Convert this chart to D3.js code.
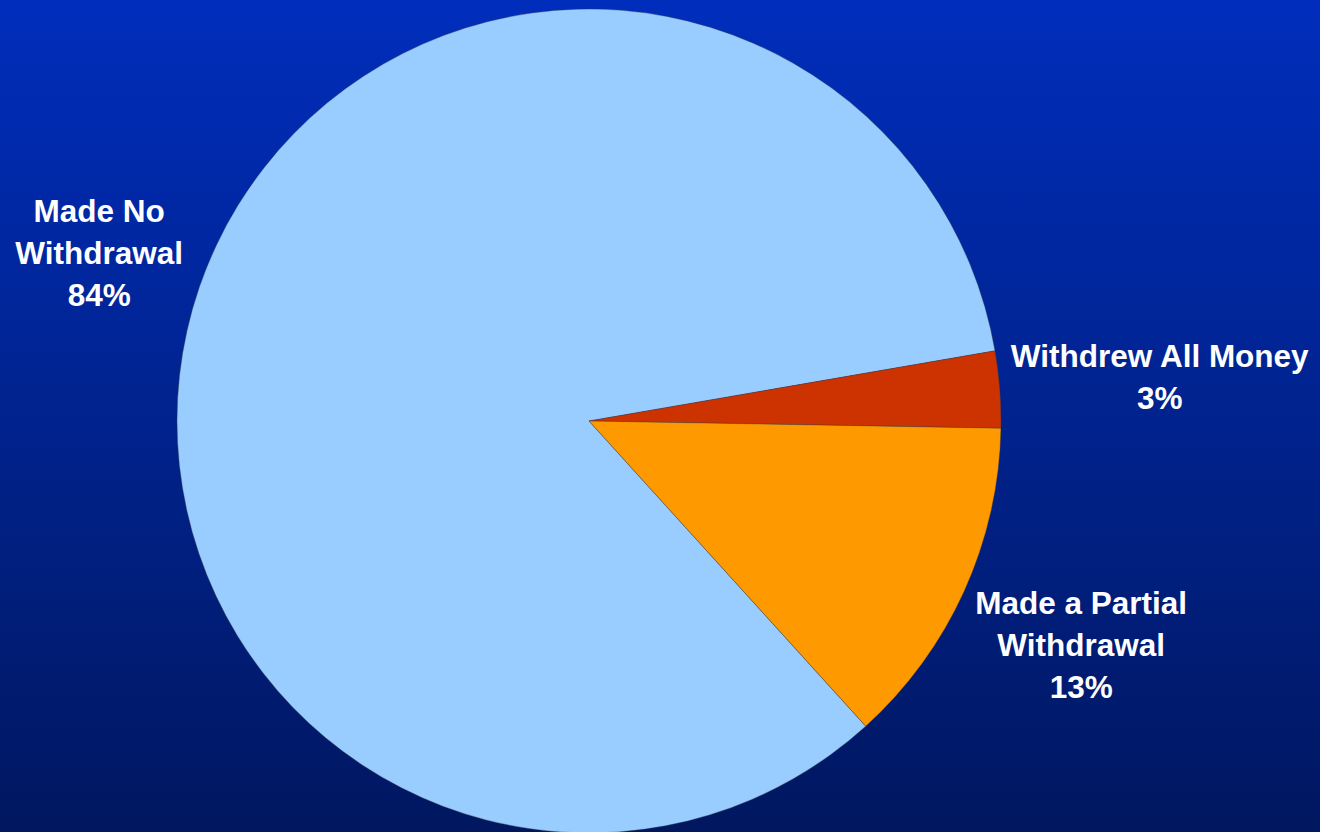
<!DOCTYPE html>
<html>
<head>
<meta charset="utf-8">
<script src="https://cdn.jsdelivr.net/npm/d3@7"></script>
<style>
  html, body { margin: 0; padding: 0; overflow: hidden; }
  svg { display: block; }
</style>
</head>
<body>
<svg id="chart" width="1320" height="832"></svg>
<script>
// Withdrawal behaviour shares
const categories = ["Made No Withdrawal", "Withdrew All Money", "Made a Partial Withdrawal"];
const labelLines = [["Made No", "Withdrawal"], ["Withdrew All Money"], ["Made a Partial", "Withdrawal"]];
const values = [84, 3, 13];
const sliceColors = ["#99ccff", "#cc3300", "#ff9900"];

const W = 1320, H = 832;
const cx = 589, cy = 421, radius = 412;
const startDeg = 137.8;

const svg = d3.select("#chart");

// Background gradient
const defs = svg.append("defs");
const grad = defs.append("linearGradient")
  .attr("id", "bg").attr("x1", 0).attr("y1", 0).attr("x2", 0).attr("y2", 1);
grad.append("stop").attr("offset", "0%").attr("stop-color", "#002ebc");
grad.append("stop").attr("offset", "100%").attr("stop-color", "#001760");
svg.append("rect").attr("width", W).attr("height", H).attr("fill", "url(#bg)");

const color = d3.scaleOrdinal().domain(categories).range(sliceColors);

const pie = d3.pie()
  .sort(null)
  .value(d => d.value)
  .startAngle(startDeg * Math.PI / 180)
  .endAngle(startDeg * Math.PI / 180 + 2 * Math.PI);

const data = categories.map((c, i) => ({ name: c, value: values[i], lines: labelLines[i] }));
const arcs = pie(data);
const arc = d3.arc().innerRadius(0).outerRadius(radius);

const g = svg.append("g").attr("transform", `translate(${cx},${cy})`);

g.selectAll("path.slice")
  .data(arcs)
  .join("path")
  .attr("class", "slice")
  .attr("d", arc)
  .attr("fill", d => color(d.data.name))
  .attr("stroke", "#3a3a3a")
  .attr("stroke-width", 0.6)
  .attr("stroke-opacity", 0.6);

// Labels sit outside the pie along each slice's mid angle, pushed out
// until the nearest point of the text block clears the rim by a small gap.
const fontSize = 31.5;
const lineH = 42;
const capH = fontSize * 0.716;
const gap = 10;

function nearestDist(x, y, hw, hh) {
  const nx = Math.max(Math.abs(x) - hw, 0);
  const ny = Math.max(Math.abs(y) - hh, 0);
  return Math.hypot(nx, ny);
}

const labels = g.selectAll("text.lbl")
  .data(arcs)
  .join("text")
  .attr("class", "lbl")
  .attr("font-family", "'Liberation Sans', Arial, sans-serif")
  .attr("font-weight", "bold")
  .attr("font-size", fontSize)
  .attr("fill", "#ffffff")
  .attr("text-anchor", "middle");

labels.each(function (d) {
  const t = d3.select(this);
  const lines = d.data.lines.concat([d.data.value + "%"]);
  lines.forEach((ln, i) => {
    t.append("tspan").attr("x", 0).attr("y", i * lineH).text(ln);
  });
  const bb = this.getBBox();
  const hw = bb.width / 2;
  const top = -capH, bottom = (lines.length - 1) * lineH;
  const hh = (bottom - top) / 2;
  const midY = (top + bottom) / 2;
  const mid = (d.startAngle + d.endAngle) / 2;
  const ux = Math.sin(mid), uy = -Math.cos(mid);
  let lo = 0, hi = radius * 3;
  for (let k = 0; k < 60; k++) {
    const m = (lo + hi) / 2;
    if (nearestDist(ux * m, uy * m, hw, hh) < radius + gap) lo = m; else hi = m;
  }
  const px = ux * hi, py = uy * hi;
  t.attr("transform", `translate(${px - (bb.x + hw)},${py - midY})`);
});
</script>
</body>
</html>
